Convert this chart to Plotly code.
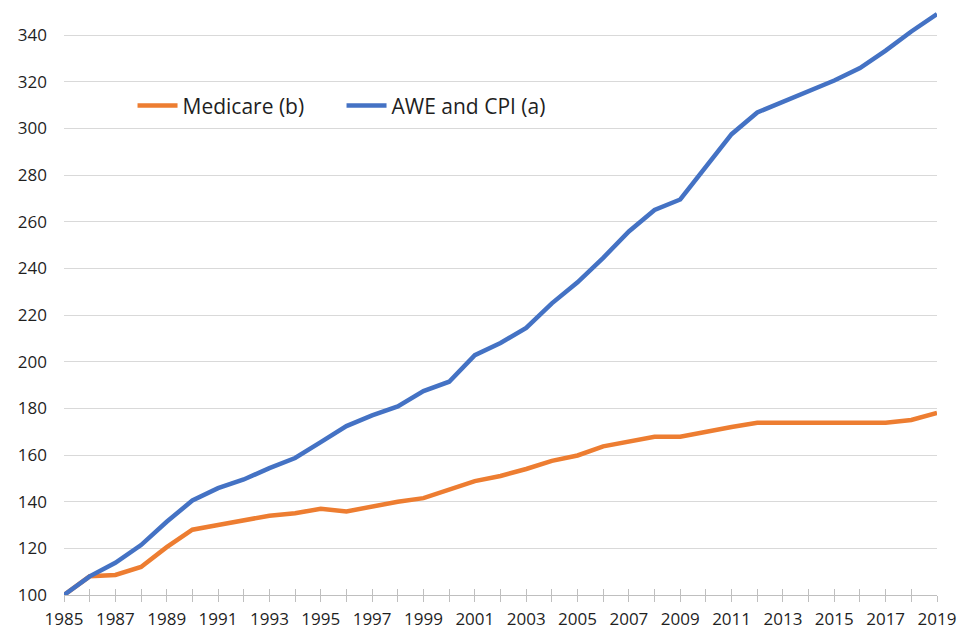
import plotly.graph_objects as go

years = list(range(1985, 2020))
medicare = [100, 108, 108.6, 112, 120.5, 128, 130, 132, 134, 135, 137,
            135.8, 138, 140, 141.5, 145, 148.8, 151, 154, 157.5, 159.8,
            163.7, 165.8, 167.8, 167.8, 170, 172, 173.8, 173.8, 173.8, 173.8,
            173.8, 173.8, 175, 178]
awe_cpi = [100, 108, 113.8, 121.4, 131.4, 140.5, 145.8, 149.5, 154.4, 158.7, 165.5,
           172.4, 177, 180.8, 187.4, 191.4, 202.8, 208, 214.5, 225, 234,
           244.5, 255.8, 265, 269.5, 283.5, 297.5, 306.8, 311.4, 315.8, 320.5,
           325.8, 333.3, 341.5, 349]
x_tick_labels = [str(y) if (y - 1985) % 2 == 0 else "" for y in years]
y_ticks = [100, 120, 140, 160, 180, 200, 220, 240, 260, 280, 300, 320, 340]

fig = go.Figure()
# helper trace so the overlaid tick axis (upper half of the crossing ticks) is drawn
fig.add_trace(go.Scatter(x=[years[0]], y=[None], xaxis="x2", mode="lines",
                         showlegend=False, hoverinfo="skip"))
fig.add_trace(go.Scatter(x=years, y=medicare, mode="lines", name="Medicare (b)",
                         line=dict(color="#ED7D31", width=4.5), cliponaxis=False))
fig.add_trace(go.Scatter(x=years, y=awe_cpi, mode="lines", name="AWE and CPI (a)",
                         line=dict(color="#4472C4", width=4.5), cliponaxis=False))

fig.update_layout(
    width=957, height=629,
    margin=dict(l=64, r=20, t=7, b=34, autoexpand=False),
    paper_bgcolor="white", plot_bgcolor="white",
    font=dict(family="Open Sans, sans-serif", size=17, color="#1f1f1f"),
    showlegend=True,
    legend=dict(orientation="h", x=0.0785, y=0.832, xanchor="left", yanchor="middle",
                font=dict(size=21, color="#1f1f1f"), bgcolor="rgba(0,0,0,0)",
                itemwidth=40, entrywidth=154, entrywidthmode="pixels", tracegroupgap=0),
    xaxis=dict(range=[1985, 2019], tickvals=years, ticktext=x_tick_labels,
               showgrid=False, showline=True, linecolor="#bfbfbf", linewidth=1,
               ticks="outside", ticklen=6, tickcolor="#bfbfbf", zeroline=False,
               automargin=False, ticklabelstandoff=3,
               tickfont=dict(size=17, color="#1f1f1f")),
    xaxis2=dict(range=[1985, 2019], tickvals=years, overlaying="x", anchor="y",
                side="bottom", showgrid=False, showline=False, zeroline=False,
                ticks="inside", ticklen=6, tickcolor="#bfbfbf",
                showticklabels=False, automargin=False),
    yaxis=dict(range=[100, 352], tickvals=y_ticks, showgrid=True, gridcolor="#d9d9d9",
               gridwidth=1, zeroline=False, showline=False, ticks="",
               automargin=False, ticklabelstandoff=16,
               tickfont=dict(size=17, color="#1f1f1f")),
)
fig.write_html("out.html", config={"displayModeBar": False},
               post_script="document.body.style.margin='0';document.body.style.overflow='hidden';")
